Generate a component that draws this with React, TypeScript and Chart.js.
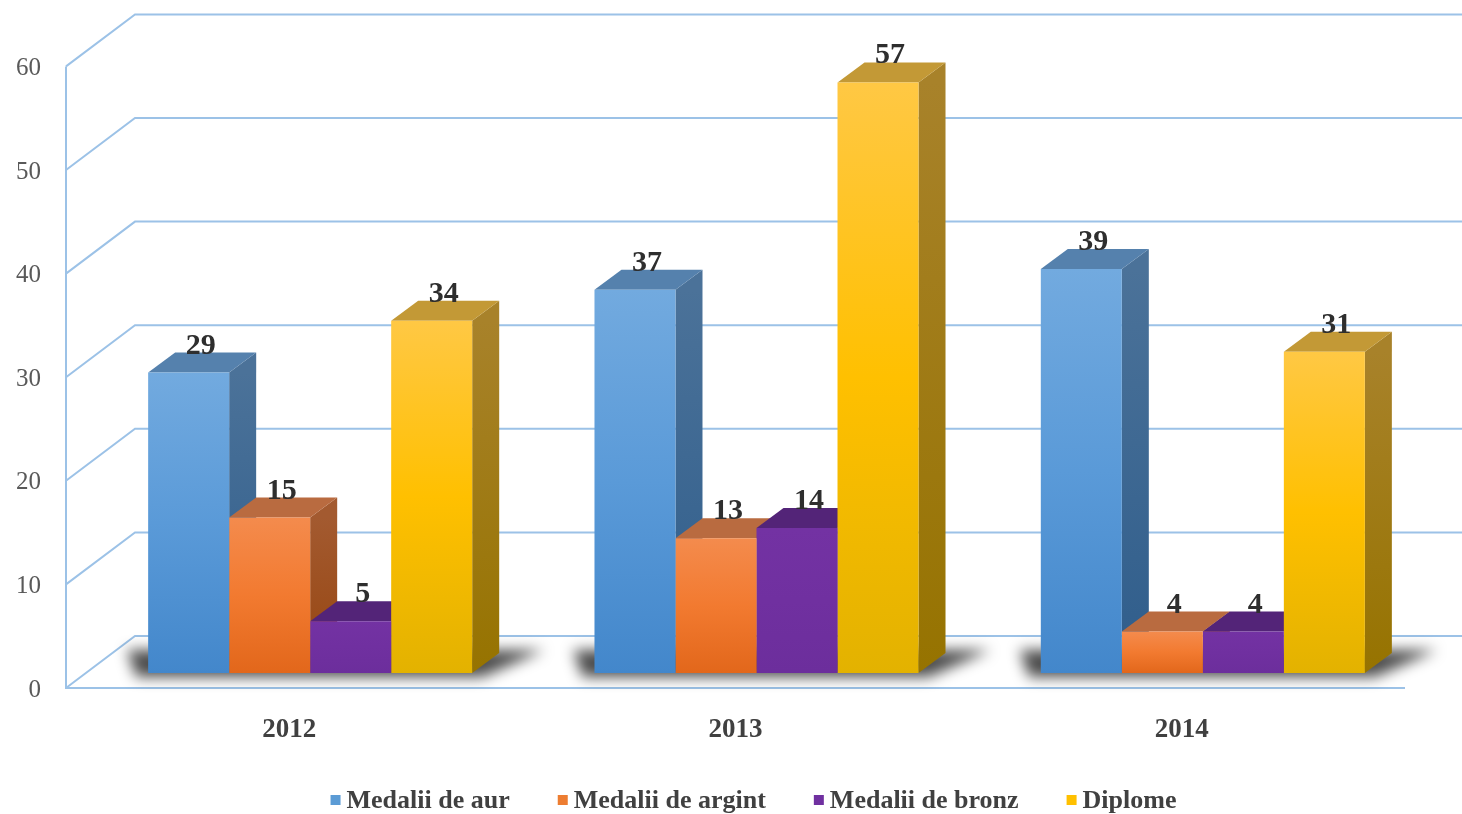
import React, { useEffect, useRef } from 'react';
import { Chart, registerables } from 'chart.js';

Chart.register(...registerables);

// ---------- data ----------
const categories = ['2012', '2013', '2014'];
const seriesNames = ['Medalii de aur', 'Medalii de argint', 'Medalii de bronz', 'Diplome'];
const goldMedals = [29, 37, 39];
const silverMedals = [15, 13, 4];
const bronzeMedals = [5, 14, 4];
const diplomas = [34, 57, 31];
const yTicks = [0, 10, 20, 30, 40, 50, 60];

const seriesValues = [goldMedals, silverMedals, bronzeMedals, diplomas];

// ---------- style ----------
const SERIF = "'Liberation Serif', 'Times New Roman', serif";
const GRID_COLOR = '#9cc2e7';
const PALETTE = [
  { legend: '#5b9bd5', stops: ['#72aadf', '#5a9ad8', '#4387cb'], top: '#5581ad', side: ['#4b7299', '#2f5d8b'] },
  { legend: '#ed7d31', stops: ['#f48b4d', '#f27a30', '#e2671b'], top: '#b96b40', side: ['#a35a30', '#96450f'] },
  { legend: '#7030a0', stops: ['#7332a3', '#7030a0', '#6c2e9c'], top: '#532478', side: ['#4f2172', '#451b66'] },
  { legend: '#ffc000', stops: ['#ffc844', '#ffc000', '#e3b200'], top: '#c39936', side: ['#a8822a', '#967300'] },
];
const FRONT = { dx: -21, dy: 15 };
const BACK = { dx: 48, dy: -37 };
const DEPTH = { dx: 27, dy: -20 };

function geom(el: any) {
  const p = el.getProps(['x', 'y', 'base', 'width'], true);
  return { left: p.x - p.width / 2, right: p.x + p.width / 2, top: p.y, base: p.base, cx: p.x };
}

function poly(ctx: CanvasRenderingContext2D, pts: number[][]) {
  ctx.beginPath();
  ctx.moveTo(pts[0][0], pts[0][1]);
  for (let i = 1; i < pts.length; i++) ctx.lineTo(pts[i][0], pts[i][1]);
  ctx.closePath();
  ctx.fill();
}

const threeD = {
  id: 'threeD',
  beforeDatasetsDraw(chart: any) {
    const { ctx, chartArea, scales } = chart;
    const y = scales.y;
    // walls / grid
    ctx.save();
    ctx.strokeStyle = GRID_COLOR;
    ctx.lineWidth = 2;
    y.ticks.forEach((t: any) => {
      const py = y.getPixelForValue(t.value);
      ctx.beginPath();
      ctx.moveTo(chartArea.left + FRONT.dx, py + FRONT.dy);
      ctx.lineTo(chartArea.left + BACK.dx, py + BACK.dy);
      ctx.lineTo(chart.width, py + BACK.dy);
      ctx.stroke();
    });
    const y0 = y.getPixelForValue(y.min);
    const yMax = y.getPixelForValue(y.max);
    ctx.beginPath();
    ctx.moveTo(chartArea.left + FRONT.dx, yMax + FRONT.dy);
    ctx.lineTo(chartArea.left + FRONT.dx, y0 + FRONT.dy);
    ctx.lineTo(chartArea.right + FRONT.dx, y0 + FRONT.dy);
    ctx.stroke();
    ctx.restore();

    const metas = seriesValues.map((_, i) => chart.getDatasetMeta(i));
    // floor shadows
    ctx.save();
    ctx.filter = 'blur(7px)';
    ctx.fillStyle = 'rgba(0,0,0,0.7)';
    categories.forEach((_, j) => {
      const a = geom(metas[0].data[j]);
      const b = geom(metas[metas.length - 1].data[j]);
      poly(ctx, [
        [a.left - 12, a.base + 4],
        [b.right + 10, a.base + 4],
        [b.right + DEPTH.dx + 45, a.base + DEPTH.dy - 3],
        [a.left + DEPTH.dx - 48, a.base + DEPTH.dy - 3],
      ]);
    });
    ctx.restore();

    // side and top faces, left to right
    ctx.save();
    categories.forEach((_, j) => {
      metas.forEach((m: any, i: number) => {
        const g = geom(m.data[j]);
        const pal = PALETTE[i];
        const sg = ctx.createLinearGradient(0, g.top, 0, g.base);
        sg.addColorStop(0, pal.side[0]);
        sg.addColorStop(1, pal.side[1]);
        ctx.fillStyle = sg;
        poly(ctx, [
          [g.right, g.top],
          [g.right + DEPTH.dx, g.top + DEPTH.dy],
          [g.right + DEPTH.dx, g.base + DEPTH.dy],
          [g.right, g.base],
        ]);
        ctx.fillStyle = pal.top;
        poly(ctx, [
          [g.left, g.top],
          [g.right, g.top],
          [g.right + DEPTH.dx, g.top + DEPTH.dy],
          [g.left + DEPTH.dx, g.top + DEPTH.dy],
        ]);
      });
    });
    ctx.restore();
  },
  afterDatasetsDraw(chart: any) {
    const { ctx } = chart;
    ctx.save();
    ctx.font = `bold 30px ${SERIF}`;
    ctx.fillStyle = '#2e2e2e';
    ctx.textAlign = 'center';
    ctx.textBaseline = 'alphabetic';
    seriesValues.forEach((vals, i) => {
      const meta = chart.getDatasetMeta(i);
      vals.forEach((v, j) => {
        const g = geom(meta.data[j]);
        ctx.fillText(String(v), g.cx + 12, g.top + DEPTH.dy + 1);
      });
    });
    ctx.restore();
  },
  afterDraw(chart: any) {
    const { ctx, chartArea } = chart;
    ctx.save();
    ctx.font = `bold 26px ${SERIF}`;
    ctx.textBaseline = 'middle';
    ctx.textAlign = 'left';
    const box = 10, gap = 6, spacing = 48;
    const widths = seriesNames.map((n) => ctx.measureText(n).width);
    const total = widths.reduce((s, w) => s + box + gap + w, 0) + spacing * (seriesNames.length - 1);
    let x = (chartArea.left + chartArea.right) / 2 - 3 - total / 2;
    const cy = 800;
    seriesNames.forEach((n, i) => {
      ctx.fillStyle = PALETTE[i].legend;
      ctx.fillRect(x, cy - box / 2, box, box);
      ctx.fillStyle = '#404040';
      ctx.fillText(n, x + box + gap, cy + 1);
      x += box + gap + widths[i] + spacing;
    });
    ctx.restore();
  },
};

function frontFill(i: number) {
  return (c: any) => {
    const pal = PALETTE[i];
    if (c.type !== 'data') return pal.stops[1];
    const chart = c.chart;
    const ys = chart.scales && chart.scales.y;
    if (!ys || !chart.chartArea) return pal.stops[1];
    const top = ys.getPixelForValue(c.raw);
    const base = ys.getPixelForValue(0);
    const g = chart.ctx.createLinearGradient(0, top, 0, base);
    g.addColorStop(0, pal.stops[0]);
    g.addColorStop(0.5, pal.stops[1]);
    g.addColorStop(1, pal.stops[2]);
    return g;
  };
}

export default function App() {
  const ref = useRef<HTMLCanvasElement | null>(null);
  useEffect(() => {
    if (!ref.current) return;
    const chart = new Chart(ref.current, {
      type: 'bar',
      data: {
        labels: categories,
        datasets: seriesValues.map((vals, i) => ({
          label: seriesNames[i],
          data: vals,
          backgroundColor: frontFill(i),
          borderWidth: 0,
          barPercentage: 1,
          categoryPercentage: 0.726,
        })),
      },
      options: {
        responsive: false,
        animation: false,
        devicePixelRatio: 1,
        layout: { padding: { top: 51.4, right: 36, bottom: 0, left: 0 } },
        plugins: { legend: { display: false }, tooltip: { enabled: false } },
        scales: {
          x: {
            grid: { display: false, drawTicks: false },
            border: { display: false },
            ticks: {
              font: { family: SERIF, size: 27, weight: 'bold' },
              color: '#404040',
              padding: 41,
              labelOffset: FRONT.dx,
            },
            afterFit: (s: any) => {
              s.height = 141;
              s.paddingLeft = 0;
              s.paddingRight = 0;
            },
          },
          y: {
            min: yTicks[0],
            max: yTicks[yTicks.length - 1],
            grid: { display: false, drawTicks: false },
            border: { display: false },
            ticks: {
              stepSize: yTicks[1] - yTicks[0],
              font: { family: SERIF, size: 25 },
              color: '#595959',
              padding: 46,
              labelOffset: FRONT.dy + 2,
            },
            afterFit: (s: any) => {
              s.width = 87;
              s.paddingTop = 0;
              s.paddingBottom = 0;
            },
          },
        },
      } as any,
      plugins: [threeD as any],
    });
    return () => chart.destroy();
  }, []);
  return (
    <div style={{ position: 'absolute', left: 0, top: 0, width: 1462, height: 814 }}>
      <canvas ref={ref} width={1462} height={814} style={{ display: 'block' }} />
    </div>
  );
}
